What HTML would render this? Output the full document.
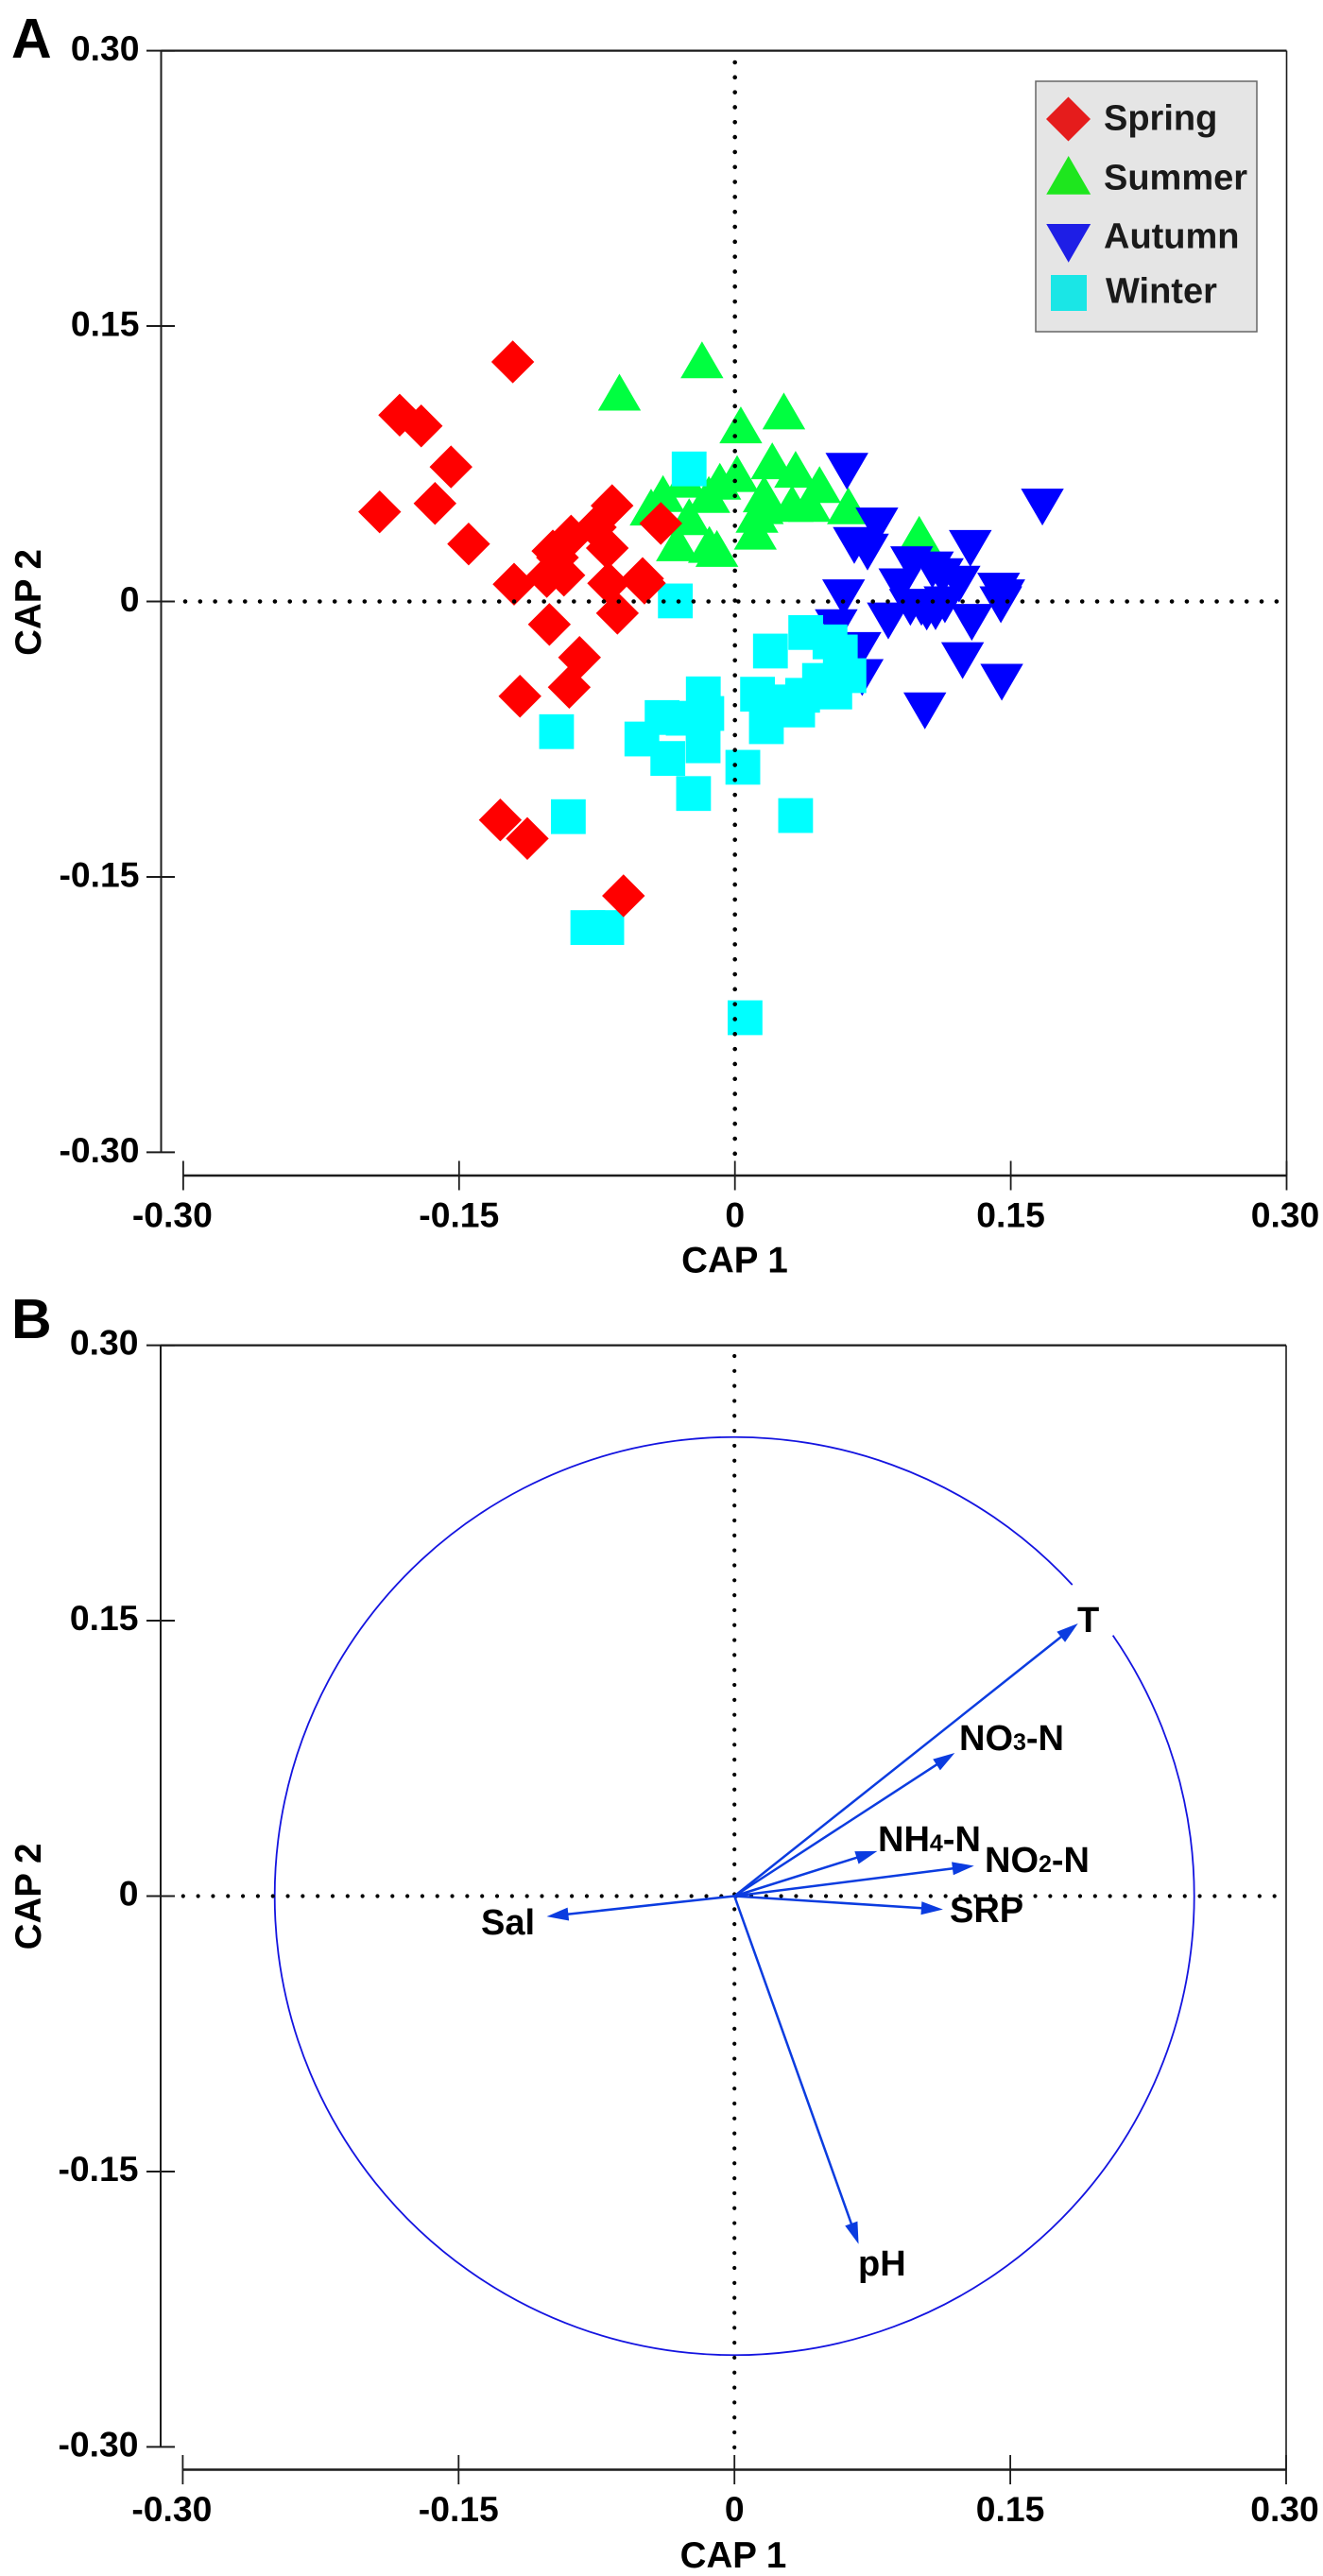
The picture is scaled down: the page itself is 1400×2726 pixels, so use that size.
<!DOCTYPE html>
<html lang="en">
<head>
<meta charset="utf-8">
<title>CAP ordination plots</title>
<style>
html,body{margin:0;padding:0;background:#fff;}
svg{display:block;}
text{font-family:"Liberation Sans",Arial,sans-serif;font-weight:bold;fill:#000;}
.tick{font-size:37.3px;}
.title{font-size:38.5px;}
.panel{font-size:59px;}
.legend-text{font-size:38px;fill:#1a1a1a;}
.vec{font-size:38px;}
.vec tspan{font-size:25px;}
</style>
</head>
<body>
<svg id="fig" xmlns="http://www.w3.org/2000/svg" width="1400" height="2726" viewBox="0 0 1400 2726">
  <rect x="0" y="0" width="1400" height="2726" fill="#fff"/>
  <text class="panel" x="12" y="61">A</text>
  <text class="panel" x="12" y="1416">B</text>

  <g id="panelA">
    <g id="marksA"></g>
    <g id="axesA"></g>
    <text class="title" x="777.5" y="1346.5" text-anchor="middle">CAP 1</text>
    <text class="title" transform="translate(43 637.5) rotate(-90)" text-anchor="middle">CAP 2</text>
    <g>
      <rect x="1096" y="86" width="234" height="265" fill="#e5e5e5" stroke="#666" stroke-width="1.5"/>
      <polygon points="1130.5,102.5 1154,126 1130.5,149.5 1107,126" fill="#e51c1c"/>
      <polygon points="1130.7,165 1154.2,205.7 1107.2,205.7" fill="#1ee61e"/>
      <polygon points="1107.2,237 1154.2,237 1130.7,277.7" fill="#1e1ee6"/>
      <rect x="1112" y="291" width="38" height="38" fill="#1ae6e6"/>
      <text class="legend-text" x="1168" y="137.3">Spring</text>
      <text class="legend-text" x="1168" y="200.7">Summer</text>
      <text class="legend-text" x="1168" y="262.3">Autumn</text>
      <text class="legend-text" x="1170" y="320.7">Winter</text>
    </g>
  </g>

  <g id="panelB">
    <g id="ringB"></g>
    <g id="axesB"></g>
    <g id="vectorsB"></g>
    <text class="title" x="776" y="2717" text-anchor="middle">CAP 1</text>
    <text class="title" transform="translate(43 2007) rotate(-90)" text-anchor="middle">CAP 2</text>
    <text class="vec" x="1140" y="1727">T</text>
    <text class="vec" x="1015" y="1852">NO<tspan>3</tspan>-N</text>
    <text class="vec" x="929" y="1959">NH<tspan>4</tspan>-N</text>
    <text class="vec" x="1042" y="1981">NO<tspan>2</tspan>-N</text>
    <text class="vec" x="1005" y="2034">SRP</text>
    <text class="vec" x="509" y="2047">Sal</text>
    <text class="vec" x="908" y="2408">pH</text>
  </g>
</svg>
<script>
var axisTicks = [-0.30, -0.15, 0, 0.15, 0.30];
var axisTickLabels = ["-0.30", "-0.15", "0", "0.15", "0.30"];

var springX = [-0.1208,-0.1823,-0.1706,-0.1544,-0.1631,-0.1932,-0.1448,-0.0668,-0.0403,-0.0891,-0.0990,-0.0759,-0.0694,-0.1201,-0.1023,-0.0930,-0.0965,-0.0687,-0.0502,-0.0492,-0.1009,-0.0639,-0.0845,-0.0901,-0.1169,-0.1276,-0.1129,-0.0606];
var springY = [0.1305,0.1015,0.0956,0.0733,0.0534,0.0488,0.0313,0.0522,0.0425,0.0356,0.0275,0.0404,0.0291,0.0094,0.0136,0.0143,0.0239,0.0099,0.0125,0.0100,-0.0125,-0.0064,-0.0305,-0.0467,-0.0516,-0.1190,-0.1291,-0.1603];

var summerX = [0.0032,0.0266,-0.0179,-0.0628,0.0203,0.0330,0.0460,0.0617,0.1002,0.0012,-0.0082,-0.0142,0.0159,0.0149,0.0311,0.0406,0.0120,0.0111,-0.0249,-0.0313,-0.0139,-0.0098,-0.0391,-0.0456,-0.0271];
var summerY = [0.0962,0.1038,0.1316,0.1140,0.0766,0.0720,0.0637,0.0521,0.0366,0.0697,0.0655,0.0583,0.0586,0.0522,0.0534,0.0534,0.0475,0.0383,0.0462,0.0320,0.0311,0.0289,0.0588,0.0514,0.0666];

var autumnX = [0.0609,0.1672,0.0772,0.0649,0.0721,0.1280,0.0961,0.0897,0.1128,0.1219,0.1074,0.1434,0.1462,0.1446,0.0591,0.0551,0.0834,0.1288,0.1014,0.1043,0.1091,0.0680,0.0692,0.1238,0.1451,0.1033,0.0954,0.1142];
var autumnY = [0.0709,0.0514,0.0411,0.0305,0.0269,0.0289,0.0200,0.0080,0.0135,0.0094,0.0172,0.0056,0.0020,-0.0018,0.0020,-0.0143,-0.0106,-0.0114,-0.0032,-0.0058,-0.0056,-0.0267,-0.0414,-0.0322,-0.0440,-0.0596,-0.0032,-0.0018];

var winterX = [-0.0324,-0.0249,-0.0970,-0.0906,0.0330,0.0043,-0.0225,-0.0506,-0.0365,-0.0396,-0.0172,-0.0153,-0.0173,-0.0281,0.0193,0.0385,0.0517,0.0573,0.0620,0.0460,0.0543,0.0368,0.0123,0.0245,0.0171,0.0341,-0.0800,-0.0697,0.0055];
var winterY = [0.0003,0.0722,-0.0709,-0.1172,-0.1166,-0.0903,-0.1046,-0.0749,-0.0855,-0.0632,-0.0503,-0.0610,-0.0786,-0.0636,-0.0270,-0.0169,-0.0220,-0.0275,-0.0404,-0.0430,-0.0493,-0.0511,-0.0505,-0.0547,-0.0682,-0.0591,-0.1776,-0.1776,-0.2267];

var vectorNames = ["t","no3-n","nh4-n","no2-n","srp","sal","ph"];
var vectorX = [0.1868,0.1198,0.0777,0.1303,0.1134,-0.1021,0.0675];
var vectorY = [0.1485,0.0780,0.0245,0.0165,-0.0073,-0.0111,-0.1895];

var ringRadius = 0.25;

var SVGNS = "http://www.w3.org/2000/svg";

function xA(v){ return 777.7 + v * 1946; }
function yA(v){ return 636.5 - v * 1943; }
function xB(v){ return 777.2 + v * 1946; }
function yB(v){ return 2006.5 - v * 1943; }

function make(parent, tag, attrs){
  var el = document.createElementNS(SVGNS, tag);
  for (var k in attrs) el.setAttribute(k, attrs[k]);
  parent.appendChild(el);
  return el;
}

function drawDiamond(parent, cx, cy){
  var r = 22.7;
  var el = make(parent, "polygon", {points:[cx,cy-r,cx+r,cy,cx,cy+r,cx-r,cy].join(" "), fill:"#ff0000"});
  
  
}
function drawUp(parent, cx, cy){
  var w = 22.7, h = 19.5;
  var el = make(parent, "polygon", {points:[cx,cy-h,cx+w,cy+h,cx-w,cy+h].join(" "), fill:"#00ff40"});
  
  
}
function drawDown(parent, cx, cy){
  var w = 22.7, h = 19.5;
  var el = make(parent, "polygon", {points:[cx-w,cy-h,cx+w,cy-h,cx,cy+h].join(" "), fill:"#0000ff"});
  
  
}
function drawSquare(parent, cx, cy){
  var s = 18.4;
  var el = make(parent, "rect", {x:cx-s, y:cy-s, width:s*2, height:s*2, fill:"#00ffff"});
  
  
}

function drawAxes(g, xf, yf, cfg){
  var line, txt, i;
  var stroke = "#1c1c1c";
  function seg(x1,y1,x2,y2,w,name){
    var el = make(g, "line", {x1:x1,y1:y1,x2:x2,y2:y2,stroke:stroke,"stroke-width":w});
    
    
    return el;
  }
  var left = cfg.left, right = xf(0.30), top = yf(0.30), bottom = yf(-0.30), base = cfg.base;
  seg(left, top, right, top, 2.2, 'frame-top');
  seg(right, top, right, base, 1.6, 'frame-right');
  seg(left, top, left, bottom, 2, 'y-axis-line');
  seg(xf(-0.30), base, right, base, 2.4, 'x-axis-line');

  for (i = 0; i < axisTicks.length; i++){
    var v = axisTicks[i];
    seg(155, yf(v), 185, yf(v), 2, 'y-tick');
    seg(xf(v), base-15.5, xf(v), base+15.5, 1.8, 'x-tick');

    txt = make(g, "text", {x:147.5 - cfg.yNudge, y:yf(v)+cfg.yBase, "text-anchor":"end", "class":"tick"});
    txt.textContent = axisTickLabels[i];
    
    

    var nudge = v === -0.30 ? -11.5 : (v === 0.30 ? -1.5 : 0);
    txt = make(g, "text", {x:xf(v)+nudge, y:cfg.xLabelY, "text-anchor":"middle", "class":"tick"});
    txt.textContent = axisTickLabels[i];
    
    
  }

  line = make(g, "line", {x1:cfg.dotX0, y1:yf(0), x2:cfg.dotX1, y2:yf(0), stroke:"#000", "stroke-width":cfg.dot, "stroke-linecap":"round", "stroke-dasharray":"0 15.82"});
  
  
  line = make(g, "line", {x1:xf(0), y1:cfg.dotY0, x2:xf(0), y2:cfg.dotY1, stroke:"#000", "stroke-width":cfg.dot, "stroke-linecap":"round", "stroke-dasharray":"0 15.82"});
  
  
}

/* Panel A */
var marksA = document.getElementById("marksA");
var i;
for (i = 0; i < summerX.length; i++) drawUp(marksA, xA(summerX[i]), yA(summerY[i]));
for (i = 0; i < autumnX.length; i++) drawDown(marksA, xA(autumnX[i]), yA(autumnY[i]));
for (i = 0; i < winterX.length; i++) drawSquare(marksA, xA(winterX[i]), yA(winterY[i]));
for (i = 0; i < springX.length; i++) drawDiamond(marksA, xA(springX[i]), yA(springY[i]));

drawAxes(document.getElementById("axesA"), xA, yA, {left:170.5, base:1244, xLabelY:1298.5, yBase:10.5, yNudge:0, dot:4.6, dotX0:196, dotX1:1356, dotY0:66, dotY1:1222});

/* Panel B */
var ringG = document.getElementById("ringB");
var rx = ringRadius * 1946, ry = ringRadius * 1943;
var gapStart = 42.7 * Math.PI / 180, gapEnd = 34.6 * Math.PI / 180;
var ring = make(ringG, "path", {
  d: "M" + (xB(0) + rx * Math.cos(gapStart)) + " " + (yB(0) - ry * Math.sin(gapStart)) +
     " A" + rx + " " + ry + " 0 1 0 " + (xB(0) + rx * Math.cos(gapEnd)) + " " + (yB(0) - ry * Math.sin(gapEnd)),
  fill: "none", stroke: "#1414e0", "stroke-width": 1.8
});



drawAxes(document.getElementById("axesB"), xB, yB, {left:170, base:2613.5, xLabelY:2668, yBase:10, yNudge:1, dot:4.2, dotX0:193.8, dotX1:1352, dotY0:1435, dotY1:2594});

var vecG = document.getElementById("vectorsB");
for (i = 0; i < vectorX.length; i++){
  var tx = xB(vectorX[i]), ty = yB(vectorY[i]);
  var ox = xB(0), oy = yB(0);
  var dx = tx - ox, dy = ty - oy, len = Math.sqrt(dx*dx + dy*dy);
  var ux = dx / len, uy = dy / len;
  var hl = 23, hw = 7;
  var shaft = make(vecG, "line", {x1:ox, y1:oy, x2:tx - ux*hl*0.8, y2:ty - uy*hl*0.8, stroke:"#0b3ce0", "stroke-width":2.5});
  
  
  var bx = tx - ux*hl, by = ty - uy*hl;
  var head = make(vecG, "polygon", {points:[tx, ty, bx - uy*hw, by + ux*hw, bx + uy*hw, by - ux*hw].join(" "), fill:"#0b3ce0"});
  
  
}
</script>
</body>
</html>
